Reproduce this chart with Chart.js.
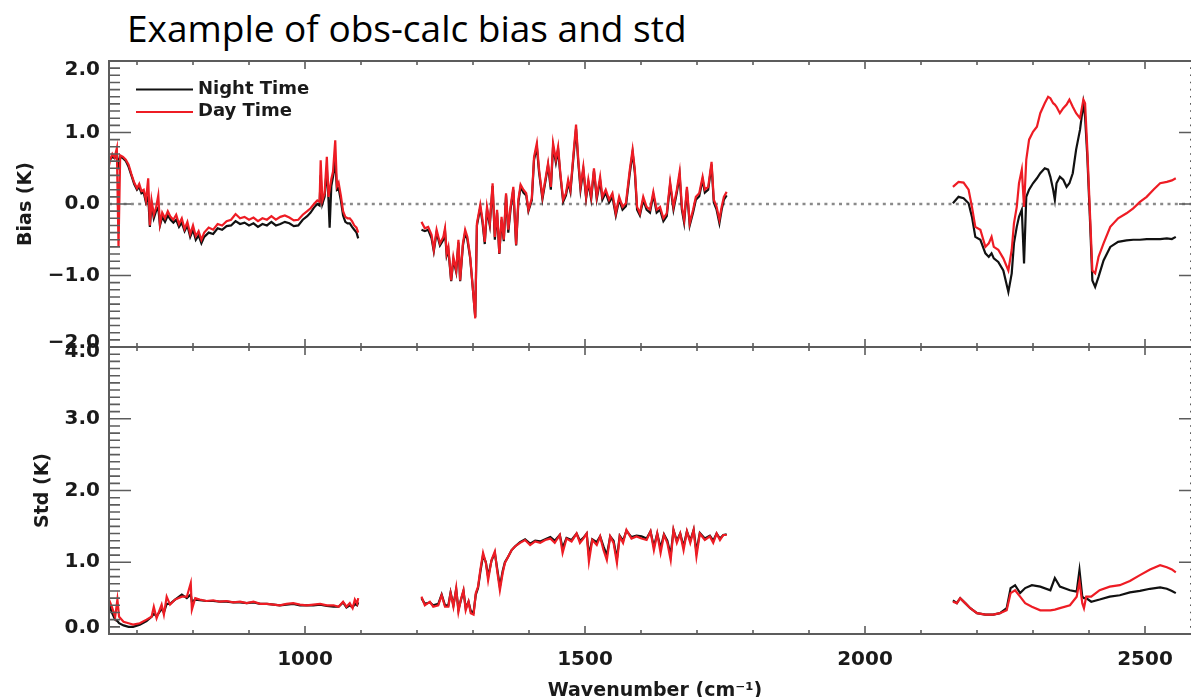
<!DOCTYPE html>
<html>
<head>
<meta charset="utf-8">
<title>obs-calc bias and std</title>
<script src="https://cdn.jsdelivr.net/npm/chart.js@4.4.1/dist/chart.umd.min.js"></script>
<style>
    body {
        margin: 0;
        width: 1191px;
        height: 697px;
        overflow: hidden;
        background: #fff;
        position: relative;
    }
    #title {
        position: absolute;
        left: 127px;
        top: 9px;
        font-family: "Open Sans", Lato, sans-serif;
        font-size: 37px;
        line-height: 37px;
        color: #000;
        white-space: nowrap;
    }
    canvas {
        position: absolute;
        left: 0;
        top: 0;
    }
</style>
</head>
<body>
<div id="title">Example of obs-calc bias and std</div>
<canvas id="biasChart" width="1220" height="710"></canvas>
<canvas id="stdChart" width="1220" height="710"></canvas>

<script>
// ---- Bias panel data (wavenumber in cm-1, bias in K) ----
const wnBias1 = [648, 652, 656, 660, 664, 667, 670, 675, 680, 685, 690, 695, 700, 704, 708, 712, 716, 720, 723, 726,
    730, 734, 738, 741, 745, 750, 755, 760, 765, 770, 775, 780, 785, 790, 795, 800, 805, 810, 815, 820,
    828, 836, 844, 852, 860, 868, 876, 884, 892, 900, 908, 916, 924, 932, 940, 948, 956, 964, 972, 980,
    988, 996, 1004, 1010, 1016, 1022, 1026, 1028, 1031, 1035, 1039, 1042, 1044, 1047, 1050, 1054, 1057, 1060, 1064, 1068,
    1072, 1076, 1080, 1084, 1088, 1092, 1095];
const biasDay1 = [0.45, 0.62, 0.70, 0.65, 0.78, -0.60, 0.68, 0.66, 0.62, 0.55, 0.42, 0.30, 0.22, 0.28, 0.18, 0.20, 0.05, 0.36, -0.30, 0.05,
    -0.15, -0.05, 0.12, -0.28, -0.12, -0.20, -0.10, -0.18, -0.22, -0.15, -0.28, -0.20, -0.35, -0.25, -0.42, -0.30, -0.45, -0.38, -0.50, -0.40,
    -0.33, -0.36, -0.28, -0.30, -0.24, -0.22, -0.14, -0.20, -0.18, -0.22, -0.19, -0.24, -0.20, -0.22, -0.17, -0.22, -0.18, -0.16, -0.19, -0.23,
    -0.22, -0.15, -0.10, -0.06, 0.00, 0.05, 0.03, 0.61, 0.05, 0.15, 0.66, 0.10, 0.20, 0.35, 0.45, 0.89, 0.25, 0.30, 0.12, -0.10,
    -0.18, -0.20, -0.20, -0.24, -0.30, -0.33, -0.40];
const biasNight1 = [0.55, 0.62, 0.66, 0.64, 0.70, 0.55, 0.66, 0.64, 0.60, 0.52, 0.40, 0.28, 0.20, 0.24, 0.15, 0.16, 0.02, 0.10, -0.32, 0.00,
    -0.20, -0.10, -0.05, -0.30, -0.18, -0.25, -0.16, -0.22, -0.26, -0.22, -0.32, -0.26, -0.38, -0.30, -0.46, -0.36, -0.50, -0.44, -0.55, -0.46,
    -0.40, -0.42, -0.34, -0.36, -0.31, -0.30, -0.24, -0.28, -0.26, -0.30, -0.27, -0.32, -0.28, -0.30, -0.25, -0.30, -0.28, -0.25, -0.27, -0.31,
    -0.30, -0.22, -0.17, -0.12, -0.05, 0.00, -0.02, 0.40, 0.00, 0.10, 0.50, 0.05, -0.33, 0.25, 0.38, 0.60, 0.20, 0.22, 0.05, -0.16,
    -0.25, -0.27, -0.27, -0.32, -0.36, -0.40, -0.48];

const wnBias2 = [1208, 1214, 1220, 1226, 1230, 1235, 1241, 1247, 1250, 1253, 1256, 1261, 1265, 1270, 1274, 1277, 1282, 1286, 1290, 1295,
    1299, 1304, 1307, 1313, 1317, 1321, 1325, 1330, 1335, 1339, 1343, 1347, 1351, 1355, 1359, 1363, 1367, 1372, 1377, 1381,
    1385, 1390, 1395, 1399, 1405, 1409, 1414, 1418, 1424, 1430, 1434, 1439, 1443, 1448, 1452, 1456, 1461, 1466, 1470, 1474,
    1479, 1484, 1488, 1492, 1497, 1502, 1506, 1511, 1516, 1521, 1527, 1531, 1537, 1543, 1549, 1555, 1561, 1567, 1573, 1580,
    1585, 1589, 1593, 1598, 1604, 1610, 1616, 1622, 1628, 1634, 1640, 1646, 1652, 1658, 1664, 1669, 1673, 1677, 1682, 1687,
    1693, 1698, 1704, 1710, 1714, 1720, 1726, 1730, 1735, 1740, 1744, 1748, 1753];
const biasDay2 = [-0.25, -0.34, -0.32, -0.43, -0.64, -0.36, -0.55, -0.46, -0.34, -0.69, -0.60, -1.07, -0.74, -0.93, -0.50, -1.07, -0.55, -0.36, -0.46, -0.74,
    -1.11, -1.60, -0.27, -0.01, -0.22, -0.53, -0.04, -0.27, 0.29, -0.46, -0.08, -0.69, -0.18, -0.50, 0.15, -0.36, -0.04, 0.24, -0.57, 0.06,
    0.27, 0.20, 0.15, -0.08, 0.08, 0.66, 0.85, 0.48, 0.10, 0.38, 0.57, 0.24, 0.85, 0.62, 0.80, 0.43, 0.06, 0.15, 0.34, 0.20,
    0.66, 1.11, 0.62, 0.24, 0.52, 0.10, 0.34, 0.10, 0.50, 0.10, 0.38, 0.10, 0.20, 0.06, 0.15, -0.13, 0.10, -0.04, 0.01, 0.48,
    0.76, 0.48, -0.04, -0.13, 0.10, -0.04, -0.08, 0.17, -0.08, -0.04, -0.20, -0.13, 0.31, -0.04, 0.20, 0.45, -0.04, -0.22, 0.24, -0.27,
    -0.08, 0.10, 0.15, 0.38, 0.20, 0.24, 0.59, 0.06, -0.04, -0.22, -0.04, 0.10, 0.17];
const biasNight2 = [-0.36, -0.38, -0.36, -0.48, -0.66, -0.40, -0.58, -0.50, -0.38, -0.72, -0.64, -1.08, -0.78, -0.95, -0.54, -1.08, -0.58, -0.40, -0.50, -0.76,
    -1.12, -1.58, -0.30, -0.05, -0.26, -0.56, -0.08, -0.30, 0.25, -0.50, -0.12, -0.70, -0.22, -0.52, 0.12, -0.40, -0.08, 0.20, -0.58, 0.02,
    0.24, 0.16, 0.12, -0.10, 0.05, 0.62, 0.80, 0.44, 0.07, 0.35, 0.54, 0.20, 0.80, 0.58, 0.76, 0.40, 0.03, 0.12, 0.30, 0.17,
    0.62, 1.05, 0.58, 0.20, 0.48, 0.08, 0.30, 0.07, 0.46, 0.07, 0.33, 0.06, 0.16, 0.02, 0.10, -0.16, 0.06, -0.08, -0.03, 0.43,
    0.72, 0.44, -0.08, -0.16, 0.06, -0.08, -0.12, 0.13, -0.12, -0.08, -0.24, -0.17, 0.27, -0.08, 0.16, 0.40, -0.08, -0.26, 0.20, -0.30,
    -0.12, 0.06, 0.11, 0.34, 0.16, 0.20, 0.55, 0.02, -0.08, -0.27, -0.08, 0.06, 0.12];

const wnBias3 = [2157, 2167, 2176, 2185, 2191, 2197, 2206, 2215, 2221, 2226, 2230, 2238, 2247, 2256, 2262, 2266, 2271, 2275, 2280, 2284,
    2288, 2293, 2300, 2307, 2313, 2321, 2327, 2331, 2336, 2339, 2342, 2348, 2354, 2360, 2365, 2371, 2377, 2384, 2390, 2393,
    2397, 2402, 2406, 2411, 2417, 2426, 2438, 2452, 2467, 2479, 2491, 2503, 2515, 2527, 2539, 2548, 2555];
const biasDay3 = [0.24, 0.31, 0.30, 0.20, -0.04, -0.32, -0.36, -0.60, -0.55, -0.46, -0.60, -0.64, -0.76, -0.93, -0.64, -0.27, -0.04, 0.29, 0.48, -0.04,
    0.62, 0.90, 1.01, 1.08, 1.27, 1.41, 1.50, 1.48, 1.41, 1.39, 1.36, 1.27, 1.34, 1.39, 1.46, 1.36, 1.27, 1.20, 1.46, 1.41,
    0.76, -0.18, -0.93, -0.97, -0.74, -0.55, -0.32, -0.20, -0.13, -0.06, 0.03, 0.10, 0.20, 0.29, 0.31, 0.33, 0.36];
const biasNight3 = [0.01, 0.10, 0.08, 0.01, -0.18, -0.46, -0.50, -0.69, -0.74, -0.69, -0.76, -0.81, -0.93, -1.23, -0.97, -0.55, -0.32, -0.18, -0.08, -0.83,
    0.10, 0.20, 0.29, 0.36, 0.43, 0.50, 0.48, 0.38, 0.20, 0.06, 0.29, 0.38, 0.34, 0.24, 0.29, 0.43, 0.76, 1.04, 1.41, 1.22,
    0.66, -0.27, -1.07, -1.16, -1.02, -0.79, -0.60, -0.53, -0.51, -0.50, -0.50, -0.49, -0.49, -0.49, -0.48, -0.49, -0.46];

// ---- Std panel data (wavenumber in cm-1, std in K) ----
const wnStd1 = [649, 655, 661, 665, 668, 676, 685, 693, 705, 717, 726, 730, 735, 744, 748, 753, 759, 768, 780, 789,
    796, 798, 804, 812, 824, 836, 848, 860, 872, 884, 896, 908, 920, 932, 944, 955, 967, 979, 991, 1003,
    1015, 1027, 1039, 1051, 1060, 1068, 1074, 1080, 1085, 1089, 1093, 1095];
const stdDay1 = [0.50, 0.38, 0.24, 0.48, 0.24, 0.17, 0.15, 0.13, 0.15, 0.20, 0.24, 0.38, 0.22, 0.41, 0.27, 0.52, 0.41, 0.48, 0.52, 0.52,
    0.71, 0.34, 0.50, 0.48, 0.46, 0.47, 0.45, 0.46, 0.44, 0.45, 0.43, 0.45, 0.42, 0.42, 0.41, 0.40, 0.42, 0.43, 0.41, 0.40,
    0.41, 0.42, 0.40, 0.40, 0.38, 0.45, 0.38, 0.43, 0.36, 0.48, 0.42, 0.50];
const stdNight1 = [0.45, 0.30, 0.20, 0.18, 0.15, 0.12, 0.10, 0.10, 0.13, 0.18, 0.24, 0.28, 0.25, 0.35, 0.30, 0.42, 0.42, 0.48, 0.55, 0.50,
    0.55, 0.45, 0.48, 0.47, 0.46, 0.46, 0.45, 0.45, 0.44, 0.44, 0.43, 0.44, 0.42, 0.42, 0.41, 0.40, 0.41, 0.42, 0.40, 0.40,
    0.40, 0.41, 0.39, 0.38, 0.38, 0.44, 0.37, 0.40, 0.37, 0.42, 0.40, 0.44];

const wnStd2 = [1208, 1214, 1223, 1229, 1238, 1244, 1250, 1256, 1260, 1265, 1270, 1274, 1278, 1283, 1287, 1292, 1296, 1301, 1305, 1309,
    1313, 1318, 1323, 1327, 1333, 1339, 1343, 1348, 1353, 1357, 1363, 1369, 1375, 1384, 1393, 1402, 1411, 1420, 1429, 1438,
    1446, 1455, 1460, 1467, 1476, 1485, 1491, 1497, 1503, 1507, 1513, 1521, 1527, 1533, 1539, 1545, 1551, 1557, 1562, 1568,
    1574, 1583, 1592, 1601, 1610, 1617, 1623, 1629, 1635, 1641, 1647, 1653, 1658, 1664, 1670, 1676, 1682, 1688, 1694, 1699,
    1705, 1714, 1723, 1729, 1735, 1741, 1747, 1753];
const stdDay2 = [0.52, 0.40, 0.45, 0.38, 0.40, 0.54, 0.38, 0.38, 0.57, 0.38, 0.64, 0.31, 0.47, 0.61, 0.33, 0.45, 0.29, 0.27, 0.57, 0.66,
    0.89, 1.13, 0.99, 0.75, 1.03, 1.15, 0.89, 0.61, 0.85, 0.99, 1.08, 1.17, 1.22, 1.27, 1.31, 1.24, 1.29, 1.27, 1.31, 1.33,
    1.27, 1.38, 1.13, 1.33, 1.29, 1.40, 1.27, 1.33, 1.40, 1.01, 1.31, 1.24, 1.36, 1.17, 1.03, 1.36, 1.27, 0.99, 1.36, 1.27,
    1.45, 1.33, 1.36, 1.33, 1.31, 1.43, 1.17, 1.40, 1.13, 1.38, 1.27, 1.03, 1.45, 1.27, 1.40, 1.17, 1.43, 1.27, 1.45, 1.08,
    1.40, 1.31, 1.36, 1.27, 1.40, 1.31, 1.38, 1.38];
const stdNight2 = [0.50, 0.42, 0.44, 0.40, 0.42, 0.55, 0.40, 0.40, 0.58, 0.40, 0.62, 0.34, 0.46, 0.60, 0.36, 0.45, 0.32, 0.30, 0.55, 0.64,
    0.86, 1.10, 1.00, 0.80, 1.02, 1.13, 0.92, 0.66, 0.88, 1.00, 1.08, 1.17, 1.22, 1.28, 1.32, 1.26, 1.30, 1.29, 1.32, 1.35,
    1.30, 1.38, 1.20, 1.34, 1.31, 1.40, 1.30, 1.34, 1.40, 1.10, 1.32, 1.28, 1.36, 1.22, 1.10, 1.36, 1.30, 1.05, 1.37, 1.30,
    1.44, 1.35, 1.37, 1.36, 1.33, 1.43, 1.22, 1.40, 1.20, 1.39, 1.30, 1.10, 1.45, 1.30, 1.40, 1.22, 1.43, 1.30, 1.45, 1.15,
    1.41, 1.33, 1.37, 1.30, 1.40, 1.33, 1.38, 1.39];

const wnStd3 = [2157, 2164, 2170, 2179, 2188, 2200, 2215, 2229, 2241, 2253, 2260, 2268, 2277, 2286, 2298, 2313, 2331, 2339, 2348, 2366,
    2378, 2383, 2388, 2391, 2395, 2404, 2419, 2437, 2455, 2473, 2491, 2509, 2527, 2539, 2548, 2555];
const stdDay3 = [0.45, 0.43, 0.50, 0.43, 0.36, 0.29, 0.27, 0.27, 0.29, 0.33, 0.57, 0.61, 0.52, 0.43, 0.38, 0.33, 0.33, 0.34, 0.36, 0.40,
    0.52, 0.73, 0.43, 0.36, 0.52, 0.52, 0.61, 0.66, 0.68, 0.74, 0.82, 0.90, 0.96, 0.93, 0.90, 0.86];
const stdNight3 = [0.47, 0.43, 0.50, 0.43, 0.36, 0.29, 0.27, 0.27, 0.29, 0.36, 0.64, 0.68, 0.57, 0.64, 0.68, 0.66, 0.61, 0.78, 0.66, 0.61,
    0.59, 0.89, 0.52, 0.50, 0.50, 0.45, 0.48, 0.52, 0.54, 0.58, 0.60, 0.63, 0.65, 0.63, 0.60, 0.57];

// ---- Axis settings ----
const xRange = [650, 2600];
const xTickLabels = [1000, 1500, 2000, 2500];
const biasTicks = [-2, -1, 0, 1, 2];
const stdTicks = [0, 1, 2, 3, 4];
const seriesNames = ['Night Time', 'Day Time'];
const seriesColors = ['#111111', '#ee1c24'];

Chart.defaults.font.family = '"DejaVu Sans", sans-serif';
Chart.defaults.color = '#1a1a1a';

// Turn x/y arrays into point objects for a linear x axis
function toPoints(xs, ys) {
    return xs.map((x, i) => ({ x: x, y: ys[i] }));
}

// One dataset per band so the gaps between bands stay empty
function bandDataset(xs, ys, series) {
    return {
        label: seriesNames[series],
        data: toPoints(xs, ys),
        borderColor: seriesColors[series],
        borderWidth: 2.2,
        pointRadius: 0,
        tension: 0,
        order: series === 1 ? 0 : 1   // red drawn over black
    };
}

function formatK(v) {
    return (v < 0 ? '\u2212' : '') + Math.abs(v).toFixed(1);
}

// IDL style frame: inward ticks on all four sides, y labels kept inside
// the box at the ends, optional dotted zero line and legend
const idlFrame = {
    id: 'idlFrame',
    beforeDatasetsDraw(chart, args, opts) {
        if (!opts.zeroLine) return;
        const { ctx, chartArea: a, scales: { y } } = chart;
        const py = y.getPixelForValue(0);
        ctx.save();
        ctx.strokeStyle = '#8a8a8a';
        ctx.lineWidth = 2.5;
        ctx.setLineDash([3, 4.3]);
        ctx.beginPath();
        ctx.moveTo(a.left, py);
        ctx.lineTo(a.right, py);
        ctx.stroke();
        ctx.restore();
    },
    afterDraw(chart, args, opts) {
        const { ctx, chartArea: a, scales: { x, y } } = chart;
        ctx.save();
        ctx.strokeStyle = '#5c5c5c';
        ctx.lineWidth = 1.6;
        ctx.beginPath();
        // x ticks every 100 cm-1, longer every 500
        for (let v = Math.ceil(x.min / 100) * 100; v <= x.max; v += 100) {
            const px = x.getPixelForValue(v);
            const len = v % 500 === 0 ? 8 : 4;
            ctx.moveTo(px, a.bottom); ctx.lineTo(px, a.bottom - len);
            ctx.moveTo(px, a.top); ctx.lineTo(px, a.top + len);
        }
        // y ticks every 0.1 K, longer every 1 K
        const steps = Math.round((y.max - y.min) * 10);
        for (let i = 0; i <= steps; i++) {
            const py = y.getPixelForValue(y.min + i / 10);
            const len = i % 10 === 0 ? 22 : 11;
            ctx.moveTo(a.left, py); ctx.lineTo(a.left + len, py);
            ctx.moveTo(a.right, py); ctx.lineTo(a.right - len, py);
        }
        ctx.stroke();
        ctx.lineWidth = 2;
        ctx.strokeRect(a.left, a.top, a.right - a.left, a.bottom - a.top);

        // y tick labels (end labels nudged inwards like the IDL original)
        ctx.font = 'bold 20px "DejaVu Sans"';
        ctx.fillStyle = '#1a1a1a';
        ctx.textAlign = 'right';
        ctx.textBaseline = 'middle';
        y.ticks.forEach((t, i) => {
            let py = y.getPixelForValue(t.value);
            if (i === 0) py -= opts.nudge[0];
            if (i === y.ticks.length - 1) py += opts.nudge[1];
            ctx.fillText(formatK(t.value), a.left - 9, py);
        });

        // legend in the upper left corner
        if (opts.legend) {
            ctx.font = 'bold 18px "DejaVu Sans"';
            ctx.textAlign = 'left';
            ctx.textBaseline = 'alphabetic';
            seriesNames.forEach((name, i) => {
                const ly = 89.5 + i * 22.5;
                ctx.strokeStyle = seriesColors[i];
                ctx.lineWidth = 2;
                ctx.beginPath();
                ctx.moveTo(136, ly);
                ctx.lineTo(193, ly);
                ctx.stroke();
                ctx.fillText(name, 198, ly + 4);
            });
        }
        ctx.restore();
    }
};

function makePanel(canvasId, datasets, ticks, yTitle, yTitlePad, nudge, padding, showX) {
    return new Chart(document.getElementById(canvasId), {
        type: 'line',
        data: { datasets: datasets },
        options: {
            responsive: false,
            animation: false,
            layout: { padding: padding },
            plugins: {
                legend: { display: false },
                tooltip: { enabled: false },
                idlFrame: { zeroLine: ticks[0] < 0, legend: ticks[0] < 0, nudge: nudge }
            },
            scales: {
                x: {
                    type: 'linear',
                    display: showX,
                    min: xRange[0],
                    max: xRange[1],
                    grid: { display: false, drawTicks: false },
                    border: { display: false },
                    afterBuildTicks: s => { s.ticks = xTickLabels.map(v => ({ value: v })); },
                    ticks: {
                        padding: 14,
                        autoSkip: false,
                        maxRotation: 0,
                        font: { size: 20, weight: 'bold' },
                        callback: v => String(v)
                    },
                    title: {
                        display: true,
                        text: 'Wavenumber (cm\u207B\u00B9)',
                        font: { size: 19, weight: 'bold' },
                        padding: { top: 0, bottom: 8 }
                    },
                    // only the lower panel carries the x axis box
                    afterFit: s => { if (showX) s.height = 76; }
                },
                y: {
                    min: ticks[0],
                    max: ticks[ticks.length - 1],
                    grid: { display: false, drawTicks: false },
                    border: { display: false },
                    afterBuildTicks: s => { s.ticks = ticks.map(v => ({ value: v })); },
                    ticks: { display: false },
                    title: {
                        display: true,
                        text: yTitle,
                        font: { size: 19, weight: 'bold' },
                        padding: { top: yTitlePad, bottom: 0 }
                    },
                    afterFit: s => { s.width = 109; }
                }
            }
        },
        plugins: [idlFrame]
    });
}

document.addEventListener('DOMContentLoaded', function () {
    const biasSets = [
        bandDataset(wnBias1, biasNight1, 0), bandDataset(wnBias2, biasNight2, 0), bandDataset(wnBias3, biasNight3, 0),
        bandDataset(wnBias1, biasDay1, 1), bandDataset(wnBias2, biasDay2, 1), bandDataset(wnBias3, biasDay3, 1)
    ];
    const stdSets = [
        bandDataset(wnStd1, stdNight1, 0), bandDataset(wnStd2, stdNight2, 0), bandDataset(wnStd3, stdNight3, 0),
        bandDataset(wnStd1, stdDay1, 1), bandDataset(wnStd2, stdDay2, 1), bandDataset(wnStd3, stdDay3, 1)
    ];

    // Top panel: plot box 61..347 px, bottom panel: 347..634 px
    makePanel('biasChart', biasSets, biasTicks, 'Bias (K)', 15, [4, 9],
        { top: 61, bottom: 710 - 347, left: 0, right: 19 }, false);
    makePanel('stdChart', stdSets, stdTicks, 'Std (K)', 32, [6, 5],
        { top: 347, bottom: 0, left: 0, right: 19 }, true);
});
</script>
</body>
</html>
